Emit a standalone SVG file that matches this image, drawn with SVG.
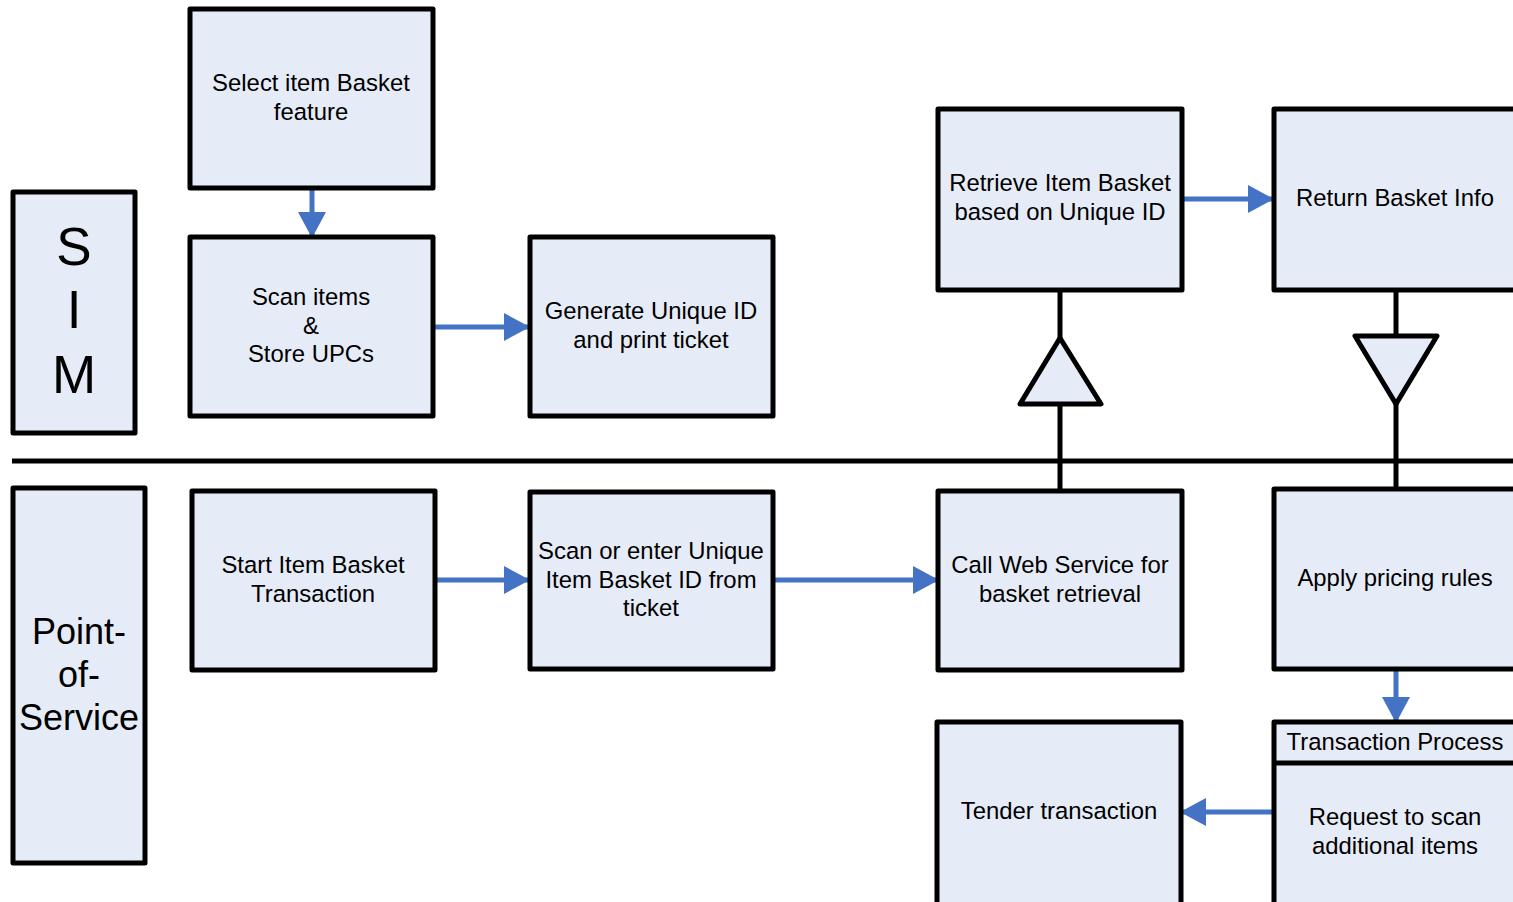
<svg xmlns="http://www.w3.org/2000/svg" width="1513" height="902" viewBox="0 0 1513 902">
  <defs>
    <style>
      .box { fill: #E6ECF7; stroke: #000; stroke-width: 5; stroke-linejoin: round; }
      .lane { fill: #E6ECF7; stroke: #000; stroke-width: 5; stroke-linejoin: round; }
      .line { fill: none; stroke: #000; stroke-width: 5; }
      .tri { fill: #E6ECF7; stroke: #000; stroke-width: 5; stroke-linejoin: round; }
      .flow { fill: none; stroke: #4472C4; stroke-width: 5; stroke-linecap: round; }
      .head { fill: #4472C4; }
      text { font-family: "Liberation Sans", Arial, sans-serif; fill: #000; text-anchor: middle; }
      .t { font-size: 23.9px; }
      .big { font-size: 53px; }
      .mid { font-size: 36px; }
    </style>
    <marker id="arrow" viewBox="0 0 26 28" refX="24" refY="14" markerWidth="26" markerHeight="28" markerUnits="userSpaceOnUse" orient="auto">
      <path class="head" d="M0,0 L26,14 L0,28 Z"/>
    </marker>
  </defs>

  <rect width="1513" height="902" fill="#fff"/>

  <!-- swimlane divider -->
  <line class="line" x1="12" y1="461" x2="1513" y2="461"/>

  <!-- lane labels -->
  <g id="lane-sim">
    <rect class="lane" x="13" y="192" width="122" height="241"/>
    <text class="big" x="74" y="265">S</text>
    <text class="big" x="74" y="328">I</text>
    <text class="big" x="74" y="393">M</text>
  </g>
  <g id="lane-pos">
    <rect class="lane" x="13" y="488" width="132" height="375"/>
    <text class="mid" x="79" y="644">Point-</text>
    <text class="mid" x="79" y="687">of-</text>
    <text class="mid" x="79" y="730">Service</text>
  </g>

  <!-- connectors -->
  <g id="connectors">
    <line class="flow" x1="312" y1="188" x2="312" y2="236" marker-end="url(#arrow)"/>
    <line class="flow" x1="432" y1="327" x2="528" y2="327" marker-end="url(#arrow)"/>
    <line class="flow" x1="1181" y1="199" x2="1272" y2="199" marker-end="url(#arrow)"/>
    <line class="flow" x1="434" y1="580" x2="528" y2="580" marker-end="url(#arrow)"/>
    <line class="flow" x1="772" y1="580" x2="937" y2="580" marker-end="url(#arrow)"/>
    <line class="flow" x1="1396" y1="668" x2="1396" y2="721" marker-end="url(#arrow)"/>
    <line class="flow" x1="1273" y1="812" x2="1182" y2="812" marker-end="url(#arrow)"/>

    <!-- message flow: request up to SIM -->
    <line class="line" x1="1060" y1="290" x2="1060" y2="338"/>
    <line class="line" x1="1060" y1="404" x2="1060" y2="491"/>
    <polygon class="tri" points="1060,338 1101,404 1020,404"/>

    <!-- message flow: response down to POS -->
    <line class="line" x1="1396" y1="290" x2="1396" y2="336"/>
    <line class="line" x1="1396" y1="404" x2="1396" y2="489"/>
    <polygon class="tri" points="1355,336 1437,336 1396,404"/>
  </g>

  <!-- SIM lane nodes -->
  <g id="select-basket">
    <rect class="box" x="190" y="9" width="243" height="179"/>
    <text class="t" x="311" y="91">Select item Basket</text>
    <text class="t" x="311" y="120">feature</text>
  </g>
  <g id="scan-items">
    <rect class="box" x="190" y="237" width="243" height="179"/>
    <text class="t" x="311" y="305">Scan items</text>
    <text class="t" x="311" y="334">&amp;</text>
    <text class="t" x="311" y="362">Store UPCs</text>
  </g>
  <g id="generate-id">
    <rect class="box" x="530" y="237" width="243" height="179"/>
    <text class="t" x="651" y="319">Generate Unique ID</text>
    <text class="t" x="651" y="348">and print ticket</text>
  </g>
  <g id="retrieve-basket">
    <rect class="box" x="938" y="109" width="244" height="181"/>
    <text class="t" x="1060" y="191">Retrieve Item Basket</text>
    <text class="t" x="1060" y="220">based on Unique ID</text>
  </g>
  <g id="return-basket">
    <rect class="box" x="1274" y="109" width="250" height="181"/>
    <text class="t" x="1395" y="206">Return Basket Info</text>
  </g>

  <!-- Point-of-Service lane nodes -->
  <g id="start-transaction">
    <rect class="box" x="192" y="491" width="243" height="179"/>
    <text class="t" x="313" y="573">Start Item Basket</text>
    <text class="t" x="313" y="602">Transaction</text>
  </g>
  <g id="scan-id">
    <rect class="box" x="530" y="492" width="243" height="177"/>
    <text class="t" x="651" y="559">Scan or enter Unique</text>
    <text class="t" x="651" y="588">Item Basket ID from</text>
    <text class="t" x="651" y="616">ticket</text>
  </g>
  <g id="call-service">
    <rect class="box" x="938" y="491" width="244" height="179"/>
    <text class="t" x="1060" y="573">Call Web Service for</text>
    <text class="t" x="1060" y="602">basket retrieval</text>
  </g>
  <g id="apply-pricing">
    <rect class="box" x="1274" y="489" width="250" height="180"/>
    <text class="t" x="1395" y="586">Apply pricing rules</text>
  </g>
  <g id="transaction-process">
    <rect class="box" x="1274" y="722" width="250" height="190"/>
    <line class="line" x1="1274" y1="763" x2="1524" y2="763"/>
    <text class="t" x="1395" y="750">Transaction Process</text>
    <text class="t" x="1395" y="825">Request to scan</text>
    <text class="t" x="1395" y="854">additional items</text>
  </g>
  <g id="tender">
    <rect class="box" x="937" y="722" width="244" height="190"/>
    <text class="t" x="1059" y="819">Tender transaction</text>
  </g>
</svg>
